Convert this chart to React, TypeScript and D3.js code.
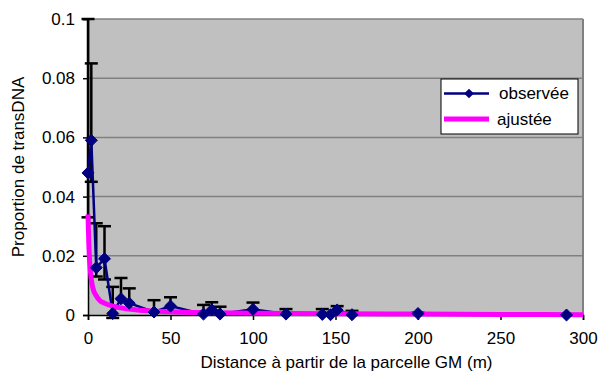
import React, { useEffect, useRef } from 'react';
import * as d3 from 'd3';

// observed points: distance (m), proportion, error bar low / high
const obsDist = [0, 2, 5, 10, 15, 20, 25, 40, 50, 70, 75, 80, 100, 120, 142, 147, 151, 160, 200, 290];
const obsProp = [0.048, 0.059, 0.016, 0.019, 0.0005, 0.0055, 0.004, 0.001, 0.003, 0.0003, 0.0017, 0.0003, 0.0019, 0.0003, 0.0002, 0.0001, 0.0017, 0.0001, 0.0005, 0];
const errLow = [0.033, 0.045, 0.013, 0.012, -0.001, 0.0055, 0.004, 0.001, 0.003, 0.0003, 0.0017, 0.0003, 0.0019, 0.0003, 0.0002, 0.0001, 0.0017, 0.0001, 0.0005, 0];
const errHigh = [0.1, 0.085, 0.031, 0.030, 0.0095, 0.0125, 0.009, 0.005, 0.006, 0.0034, 0.0043, 0.0028, 0.0042, 0.002, 0.002, 0.0001, 0.003, 0.0014, 0.0008, 0];

// fitted curve
const fitDist = [0, 0.5, 1, 2, 3, 5, 7.5, 10, 15, 20, 30, 50, 70, 100, 150, 200, 250, 300];
const fitProp = [0.034, 0.024, 0.018, 0.012, 0.009, 0.0065, 0.0047, 0.004, 0.003, 0.0024, 0.0017, 0.0011, 0.0008, 0.0006, 0.0004, 0.0003, 0.0002, 0.0001];

const xTicks = [0, 50, 100, 150, 200, 250, 300];
const yTicks = [0, 0.02, 0.04, 0.06, 0.08, 0.1];
const seriesNames = ['observée', 'ajustée'];

const WIDTH = 600;
const HEIGHT = 374;
const FONT = '"Liberation Sans", Arial, sans-serif';
const NAVY = '#000080';
const MAGENTA = '#FF00FF';

const App: React.FC = () => {
  const svgRef = useRef<SVGSVGElement>(null);

  useEffect(() => {
    if (!svgRef.current) return;
    const svg = d3.select(svgRef.current);
    svg.selectAll('*').remove();

    const plot = { left: 88, right: 583, top: 19, bottom: 315 };

    const x = d3.scaleLinear().domain([0, 300]).range([plot.left, plot.right]);
    const y = d3.scaleLinear().domain([0, 0.1]).range([plot.bottom, plot.top]);

    const obs = obsDist.map((d, i) => ({ d, p: obsProp[i], lo: errLow[i], hi: errHigh[i] }));
    const fit = fitDist.map((d, i) => ({ d, p: fitProp[i] }));

    // plot background
    svg.append('rect')
      .attr('x', plot.left).attr('y', plot.top)
      .attr('width', plot.right - plot.left).attr('height', plot.bottom - plot.top)
      .attr('fill', '#C0C0C0');

    // gridlines
    svg.append('g')
      .selectAll('line')
      .data(yTicks.filter(t => t > 0))
      .enter()
      .append('line')
      .attr('x1', plot.left).attr('x2', plot.right)
      .attr('y1', d => y(d)).attr('y2', d => y(d))
      .attr('stroke', '#808080')
      .attr('stroke-width', 1.5);

    // right border
    svg.append('line')
      .attr('x1', plot.right).attr('x2', plot.right)
      .attr('y1', plot.top).attr('y2', plot.bottom)
      .attr('stroke', '#808080')
      .attr('stroke-width', 2);

    // axes
    const yAxis = svg.append('g')
      .attr('transform', `translate(${plot.left},0)`)
      .call(d3.axisLeft(y).tickValues(yTicks).tickSize(5).tickFormat(d => String(d)));
    yAxis.select('.domain').attr('stroke', '#000').attr('stroke-width', 1.5);
    yAxis.selectAll('.tick line').attr('stroke', '#000').attr('stroke-width', 1.5);
    yAxis.selectAll('.tick text')
      .attr('x', -13)
      .style('font-family', FONT)
      .style('font-size', '17px')
      .attr('fill', '#000');

    const xAxis = svg.append('g')
      .attr('transform', `translate(0,${plot.bottom})`)
      .call(d3.axisBottom(x).tickValues(xTicks).tickSize(5).tickFormat(d => String(d)));
    xAxis.select('.domain').attr('stroke', '#000').attr('stroke-width', 1.5);
    xAxis.selectAll('.tick line').attr('stroke', '#000').attr('stroke-width', 1.5);
    xAxis.selectAll('.tick text')
      .attr('y', 17)
      .style('font-family', FONT)
      .style('font-size', '17px')
      .attr('fill', '#000');

    // error bars
    const err = svg.append('g').attr('stroke', '#000').attr('stroke-width', 2.5);
    obs.forEach(o => {
      if (o.hi > o.p) {
        err.append('line')
          .attr('x1', x(o.d)).attr('x2', x(o.d))
          .attr('y1', y(o.p)).attr('y2', y(o.hi));
        err.append('line')
          .attr('x1', x(o.d) - 6.5).attr('x2', x(o.d) + 6.5)
          .attr('y1', y(o.hi)).attr('y2', y(o.hi));
      }
      if (o.lo < o.p) {
        err.append('line')
          .attr('x1', x(o.d)).attr('x2', x(o.d))
          .attr('y1', y(o.p)).attr('y2', y(o.lo));
        err.append('line')
          .attr('x1', x(o.d) - 6.5).attr('x2', x(o.d) + 6.5)
          .attr('y1', y(o.lo)).attr('y2', y(o.lo));
      }
    });

    // observed line
    const obsLine = d3.line<{ d: number; p: number }>()
      .x(o => x(o.d))
      .y(o => y(o.p));
    svg.append('path')
      .datum(obs)
      .attr('fill', 'none')
      .attr('stroke', NAVY)
      .attr('stroke-width', 2.5)
      .attr('d', obsLine);

    // fitted line
    const fitLine = d3.line<{ d: number; p: number }>()
      .x(o => x(o.d))
      .y(o => y(o.p))
      .curve(d3.curveMonotoneX);
    svg.append('path')
      .datum(fit)
      .attr('fill', 'none')
      .attr('stroke', MAGENTA)
      .attr('stroke-width', 5)
      .attr('stroke-linejoin', 'round')
      .attr('d', fitLine);

    // markers
    const diamond = d3.symbol().type(d3.symbolDiamond2).size(92);
    svg.append('g')
      .selectAll('path')
      .data(obs)
      .enter()
      .append('path')
      .attr('transform', o => `translate(${x(o.d)},${y(o.p)})`)
      .attr('d', diamond)
      .attr('fill', NAVY)
      .attr('stroke', NAVY)
      .attr('stroke-width', 1);

    // legend
    const lg = svg.append('g').attr('transform', 'translate(441,79)');
    lg.append('rect')
      .attr('width', 137).attr('height', 55)
      .attr('fill', '#fff')
      .attr('stroke', '#000')
      .attr('stroke-width', 1);
    lg.append('line')
      .attr('x1', 3).attr('x2', 48).attr('y1', 14.5).attr('y2', 14.5)
      .attr('stroke', NAVY).attr('stroke-width', 2.5);
    lg.append('path')
      .attr('transform', 'translate(28,14.5)')
      .attr('d', d3.symbol().type(d3.symbolDiamond2).size(60))
      .attr('fill', NAVY);
    lg.append('line')
      .attr('x1', 3).attr('x2', 48).attr('y1', 40).attr('y2', 40)
      .attr('stroke', MAGENTA).attr('stroke-width', 5);
    lg.selectAll('text.lbl')
      .data(seriesNames)
      .enter()
      .append('text')
      .attr('class', 'lbl')
      .attr('x', (d, i) => (i === 0 ? 58 : 56))
      .attr('y', (d, i) => (i === 0 ? 20 : 46))
      .style('font-family', FONT)
      .style('font-size', '17px')
      .text(d => d);

    // axis titles
    svg.append('text')
      .attr('x', (plot.left + plot.right) / 2 + 11)
      .attr('y', 368)
      .attr('text-anchor', 'middle')
      .style('font-family', FONT)
      .style('font-size', '17px')
      .text('Distance à partir de la parcelle GM (m)');

    svg.append('text')
      .attr('transform', `translate(24,${(plot.top + plot.bottom) / 2}) rotate(-90)`)
      .attr('text-anchor', 'middle')
      .style('font-family', FONT)
      .style('font-size', '17px')
      .text('Proportion de transDNA');
  }, []);

  return (
    <svg
      ref={svgRef}
      width={WIDTH}
      height={HEIGHT}
      style={{ position: 'absolute', left: 0, top: 0, background: '#fff' }}
    />
  );
};

export default App;
